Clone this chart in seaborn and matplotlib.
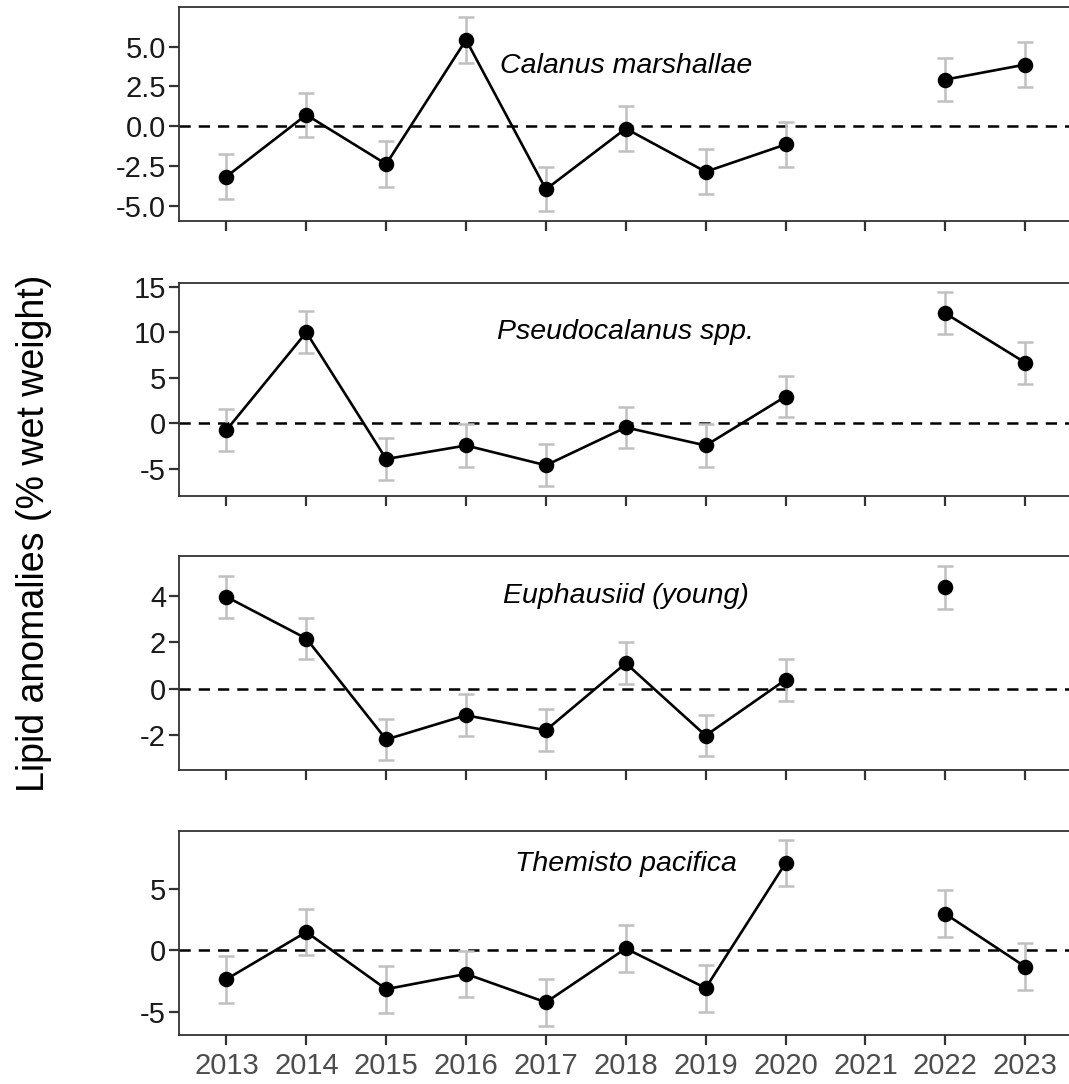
import matplotlib.pyplot as plt
import seaborn as sns
import pandas as pd
import numpy as np

# Survey years (2021 has no samples)
years = [2013, 2014, 2015, 2016, 2017, 2018, 2019, 2020, 2021, 2022, 2023]

# Lipid anomalies per taxon
calanus = [-3.15, 0.72, -2.37, 5.42, -3.95, -0.14, -2.85, -1.14, np.nan, 2.93, 3.87]
calanus_se = [1.43, 1.40, 1.42, 1.43, 1.38, 1.40, 1.40, 1.40, np.nan, 1.37, 1.40]

pseudo = [-0.76, 10.0, -3.95, -2.46, -4.64, -0.47, -2.46, 2.93, np.nan, 12.1, 6.67]
pseudo_se = [2.30, 2.30, 2.30, 2.32, 2.32, 2.30, 2.32, 2.30, np.nan, 2.30, 2.32]

euphausiid = [3.98, 2.17, -2.21, -1.16, -1.81, 1.10, -2.04, 0.38, np.nan, 4.40, np.nan]
euphausiid_se = [0.90, 0.90, 0.90, 0.91, 0.91, 0.90, 0.90, 0.90, np.nan, 0.93, np.nan]

themisto = [-2.34, 1.50, -3.15, -1.91, -4.22, 0.16, -3.06, 7.10, np.nan, 2.98, -1.32]
themisto_se = [1.92, 1.90, 1.92, 1.88, 1.93, 1.92, 1.91, 1.88, np.nan, 1.92, 1.92]

species = ['Calanus marshallae', 'Pseudocalanus spp.', 'Euphausiid (young)', 'Themisto pacifica']
label_y = [3.8, 10.0, 4.0, 7.0]
y_ticks = [[-5, -2.5, 0, 2.5, 5], [-5, 0, 5, 10, 15], [-2, 0, 2, 4], [-5, 0, 5]]
y_fmt = ['{:.1f}', '{:g}', '{:g}', '{:g}']

values = [calanus, pseudo, euphausiid, themisto]
errors = [calanus_se, pseudo_se, euphausiid_se, themisto_se]

sns.set_style('ticks')
plt.rcParams['font.family'] = ['Liberation Sans', 'DejaVu Sans']
plt.rcParams['axes.unicode_minus'] = False

fig = plt.figure(figsize=(10.69, 10.84), dpi=100)

# panel boxes (left, bottom, width, height) - right edge runs off the image like the original
boxes = [(0.167, 0.7961, 0.8368, 0.1971),
         (0.167, 0.5424, 0.8368, 0.1968),
         (0.167, 0.2897, 0.8368, 0.1974),
         (0.167, 0.0449, 0.8368, 0.1887)]

for i in range(4):
    ax = fig.add_axes(boxes[i])

    df = pd.DataFrame({'year': years, 'value': values[i], 'se': errors[i]}).dropna()
    # separate line segments before / after the 2021 gap
    df['segment'] = (df['year'] > 2021).astype(int)

    ax.axhline(0, color='black', lw=1.8, ls=(0, (4.5, 3.2)), zorder=1)
    ax.errorbar(df['year'], df['value'], yerr=df['se'], fmt='none', ecolor='#c0c0c0',
                elinewidth=1.8, capsize=5.7, capthick=1.8, zorder=2)
    sns.lineplot(data=df, x='year', y='value', units='segment', estimator=None,
                 color='black', lw=1.9, ax=ax, zorder=3)
    sns.scatterplot(data=df, x='year', y='value', color='black', s=125,
                    linewidth=0, ax=ax, zorder=4)

    ax.text(2018, label_y[i], species[i], style='italic', fontsize=20.5,
            ha='center', va='center', color='black')

    # ggplot style 5% padding around the error bars
    lo = (df['value'] - df['se']).min()
    hi = (df['value'] + df['se']).max()
    pad = 0.05 * (hi - lo)
    ax.set_ylim(lo - pad, hi + pad)
    ax.set_xlim(2012.4, 2023.6)

    ax.set_yticks(y_ticks[i])
    ax.set_yticklabels([y_fmt[i].format(t) for t in y_ticks[i]])
    ax.set_xticks(years)
    ax.set_xticklabels([str(y) for y in years])

    ax.set_xlabel('')
    ax.set_ylabel('')

    for s in ax.spines.values():
        s.set_visible(True)
        s.set_color('#333333')
        s.set_linewidth(1.3)

    ax.tick_params(axis='both', direction='out', length=7, width=1.6, color='#333333',
                   bottom=True, left=True, top=False, right=False)
    ax.tick_params(axis='y', labelsize=21, labelcolor='#1a1a1a', pad=2)
    ax.tick_params(axis='x', labelsize=21, labelcolor='#4d4d4d', pad=5)
    if i < 3:
        ax.tick_params(axis='x', labelbottom=False)

fig.text(0.032, 0.508, 'Lipid anomalies (% wet weight)', rotation=90,
         fontsize=27, ha='center', va='center', color='black')

fig.savefig('out.png', dpi=100)
